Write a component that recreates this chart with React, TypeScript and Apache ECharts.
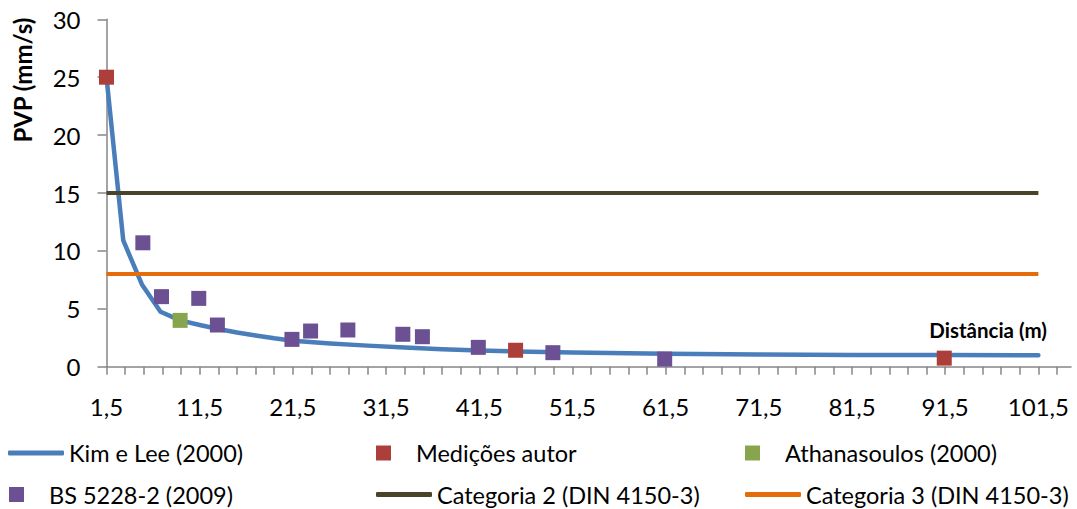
import React, { useEffect, useRef } from "react";
import * as echarts from "echarts";

const kimX = [1.5, 3.3, 5.3, 7.3, 9.4, 11.5, 13.5, 15.5, 17.5, 19.5, 21.5, 25.5, 29.5, 33.5, 37.5, 41.5, 45.5, 51.5, 61.5, 71.5, 81.5, 91.5, 101.5];
const kimY = [25, 10.9, 7.1, 4.75, 4.0, 3.6, 3.25, 2.95, 2.7, 2.45, 2.25, 2.0, 1.82, 1.66, 1.5, 1.4, 1.32, 1.23, 1.12, 1.06, 1.02, 1.0, 0.98];

const medX = [1.5, 45.4, 91.4];
const medY = [25, 1.42, 0.74];

const athX = [9.4];
const athY = [4.0];

const bsX = [5.4, 7.4, 11.4, 13.4, 21.4, 23.4, 27.4, 33.3, 35.4, 41.4, 49.4, 61.4];
const bsY = [10.7, 6.05, 5.9, 3.6, 2.36, 3.08, 3.17, 2.8, 2.59, 1.67, 1.21, 0.66];

const cat2X = [1.5, 101.5];
const cat2Y = [15, 15];
const cat3X = [1.5, 101.5];
const cat3Y = [8, 8];

const xLabelValues = [1.5, 11.5, 21.5, 31.5, 41.5, 51.5, 61.5, 71.5, 81.5, 91.5, 101.5];
const xTickValues: number[] = [];
for (let v = 1.5; v <= 103.5; v += 2) xTickValues.push(v);

const names = [
  "Kim e Lee (2000)",
  "Medições autor",
  "Athanasoulos (2000)",
  "BS 5228-2 (2009)",
  "Categoria 2 (DIN 4150-3)",
  "Categoria 3 (DIN 4150-3)",
];

const zip = (xs: number[], ys: number[]) => xs.map((x, i) => [x, ys[i]]);

const FONT = "Lato";
const AXIS_COLOR = "#868686";
const SQUARE = "path://M0 0H10V10H0Z";

export default function App() {
  const ref = useRef<HTMLDivElement>(null);
  useEffect(() => {
    if (!ref.current) return;
    const chart = echarts.init(ref.current, undefined, { renderer: "svg" });
    const legendText = { fontFamily: FONT, fontSize: 23.5, color: "#000", lineHeight: 24 };
    const mkLegend = (name: string, left: number, top: number, isLine: boolean) => ({
      show: true,
      data: [name],
      left,
      top,
      padding: 0,
      orient: "horizontal",
      selectedMode: false,
      itemWidth: isLine ? 56 : 55,
      itemHeight: isLine ? 5 : 15,
      icon: isLine ? "roundRect" : SQUARE,
      textStyle: legendText,
    });
    chart.setOption({
      animation: false,
      backgroundColor: "#fff",
      grid: { left: 106.5, right: 6, top: 19.3, bottom: 142.3, containLabel: false },
      legend: [
        mkLegend(names[0], 8, 441, true),
        mkLegend(names[1], 376, 441, false),
        mkLegend(names[2], 745, 441, false),
        mkLegend(names[3], 9, 482.5, false),
        mkLegend(names[4], 376, 482.5, true),
        mkLegend(names[5], 745, 482.5, true),
      ],
      xAxis: {
        type: "value",
        min: 1.5,
        max: 105,
        splitLine: { show: false },
        axisLine: { show: true, onZero: false, lineStyle: { color: AXIS_COLOR, width: 1.5 } },
        axisTick: {
          show: true,
          customValues: xTickValues,
          length: 8,
          lineStyle: { color: AXIS_COLOR, width: 1.5 },
        },
        axisLabel: {
          customValues: xLabelValues,
          margin: 28,
          fontFamily: FONT,
          fontSize: 24,
          color: "#000",
          formatter: (v: number) => String(v).replace(".", ","),
        },
      },
      yAxis: {
        type: "value",
        min: 0,
        max: 30,
        interval: 5,
        splitLine: { show: false },
        axisLine: { show: true, lineStyle: { color: AXIS_COLOR, width: 1.5 } },
        axisTick: { show: true, length: 9, lineStyle: { color: AXIS_COLOR, width: 1.5 } },
        axisLabel: { margin: 26, fontFamily: FONT, fontSize: 24, color: "#000" },
      },
      graphic: [
        {
          type: "text",
          x: 22,
          y: 80,
          rotation: Math.PI / 2,
          style: {
            text: "PVP (mm/s)",
            fontFamily: FONT,
            fontWeight: "bold",
            fontSize: 24,
            fill: "#000",
            align: "center",
            verticalAlign: "middle",
          },
        },
        {
          type: "text",
          x: 1047,
          y: 330,
          style: {
            text: "Distância (m)",
            fontFamily: FONT,
            fontWeight: "bold",
            fontSize: 20.5,
            fill: "#000",
            align: "right",
            verticalAlign: "middle",
          },
        },
      ],
      series: [
        {
          name: names[0],
          type: "line",
          data: zip(kimX, kimY),
          showSymbol: false,
          symbol: "none",
          smooth: false,
          color: "#4A7EBB",
          lineStyle: { width: 4.5, color: "#4A7EBB", cap: "round", join: "round" },
          z: 2,
        },
        {
          name: names[4],
          type: "line",
          data: zip(cat2X, cat2Y),
          showSymbol: false,
          symbol: "none",
          color: "#4A452A",
          lineStyle: { width: 4, color: "#4A452A" },
          z: 3,
        },
        {
          name: names[5],
          type: "line",
          data: zip(cat3X, cat3Y),
          showSymbol: false,
          symbol: "none",
          color: "#E46C0A",
          lineStyle: { width: 4, color: "#E46C0A" },
          z: 3,
        },
        {
          name: names[1],
          type: "scatter",
          data: zip(medX, medY),
          symbol: "rect",
          symbolSize: 15,
          color: "#AD3F3B",
          itemStyle: { color: "#AD3F3B", opacity: 1 },
          z: 4,
        },
        {
          name: names[2],
          type: "scatter",
          data: zip(athX, athY),
          symbol: "rect",
          symbolSize: 15,
          color: "#88A44C",
          itemStyle: { color: "#88A44C", opacity: 1 },
          z: 4,
        },
        {
          name: names[3],
          type: "scatter",
          data: zip(bsX, bsY),
          symbol: "rect",
          symbolSize: 15,
          color: "#6B5193",
          itemStyle: { color: "#6B5193", opacity: 1 },
          z: 4,
        },
      ],
    });
    return () => chart.dispose();
  }, []);
  return (
    <div
      ref={ref}
      style={{ position: "fixed", left: 0, top: 0, width: 1077, height: 509, background: "#fff" }}
    />
  );
}
